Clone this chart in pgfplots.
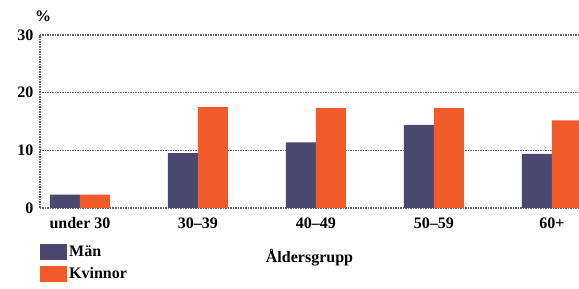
\documentclass[border=0pt]{standalone}
\usepackage{pgfplots}
\pgfplotsset{compat=1.18}
\usepackage{fontspec}
\setmainfont{Liberation Serif}
\definecolor{man}{HTML}{4B4870}
\definecolor{kvinna}{HTML}{F15A29}
\newcommand{\bigf}{\fontsize{16}{18}\selectfont\bfseries}
\begin{document}
\begin{tikzpicture}[x=1pt,y=1pt]
\useasboundingbox (0,0) rectangle (579,289);
\begin{axis}[
  at={(40pt,81pt)}, anchor=south west,
  scale only axis, width=539pt, height=173pt,
  ybar=0pt, bar width=30pt,
  xmin=-0.339, xmax=4.229, ymin=0, ymax=30,
  xtick={0,1,2,3,4},
  xticklabels={under 30,30--39,40--49,50--59,60+},
  ytick={0,10,20,30},
  major tick length=0pt,
  ymajorgrids,
  grid style={black!60, line width=1.3pt, dash pattern=on 1.5pt off 1pt},
  axis x line*=bottom, axis y line*=left,
  axis line style={black!60, line width=1.3pt, dash pattern=on 1.5pt off 1pt, -},
  /pgf/number format/assume math mode=true,
  tick label style={font=\bigf},
  xticklabel style={yshift=-6pt},
  yticklabel style={xshift=-3pt},
  xlabel={Åldersgrupp},
  xlabel style={font=\bigf, at={(0.5,0)}, anchor=north, yshift=-38pt},
  legend style={at={(0,0)}, anchor=north west, xshift=0pt, yshift=-36pt, draw=none, fill=none,
    font=\bigf, row sep=5pt, inner sep=0pt,
    /tikz/every even column/.append style={column sep=2pt}},
  legend cell align=left,
  legend image code/.code={\fill[#1,draw=none] (0pt,-8pt) rectangle (27pt,8pt);},
  clip=false,
]
\addplot[fill=man, draw=none] coordinates {(0,2.3) (1,9.5) (2,11.4) (3,14.4) (4,9.4)};
\addplot[fill=kvinna, draw=none] coordinates {(0,2.3) (1,17.5) (2,17.3) (3,17.3) (4,15.2)};
\legend{Män,Kvinnor}
\node[anchor=south west, font=\bigf, inner sep=0pt] at (rel axis cs:0,1) [yshift=13pt,xshift=-5pt] {\%};
\end{axis}
\end{tikzpicture}
\end{document}
